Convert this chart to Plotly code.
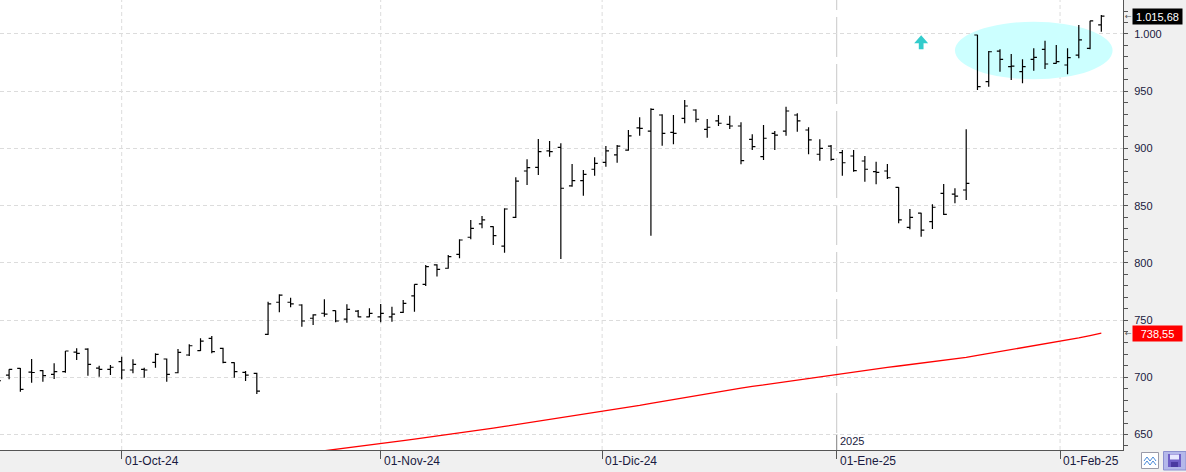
import numpy as np
import pandas as pd
import plotly.graph_objects as go

# ---------------- data ----------------
holidays = ["2024-11-28", "2024-12-25", "2025-01-01", "2025-01-09", "2025-01-20"]
dates = pd.bdate_range("2024-09-16", "2025-02-06", freq="C", holidays=holidays)

opens = [699.0, 702.0, 707.9, 704.6, 705.8, 702.6, 705.0, 722.0, 724.7, 708.0,
         707.0, 713.7, 706.4, 707.0, 713.1, 716.0, 704.0, 719.5, 723.3, 734.1,
         725.3, 712.8, 704.4, 703.5, 737.6, 765.6, 765.6, 763.2, 751.6, 756.0,
         758.2, 750.9, 757.9, 752.9, 752.9, 752.9, 756.8, 771.1, 781.3, 798.2,
         795.3, 807.5, 822.4, 834.0, 831.6, 814.7, 839.8, 880.3, 883.5, 897.8,
         901.0, 867.2, 871.8, 881.8, 887.9, 894.3, 898.6, 918.0, 915.2, 929.2,
         914.1, 926.3, 933.6, 916.7, 924.0, 921.1, 919.6, 908.0, 892.8, 913.2,
         915.2, 929.2, 916.1, 894.9, 902.1, 896.3, 893.4, 889.0, 879.7, 880.3,
         866.0, 831.1, 843.4, 836.0, 860.8, 860.0, 863.7, 999.1, 958.3, 985.1,
         971.4, 967.1, 977.9, 986.6, 974.4, 972.9, 981.6, 987.5, 1007.9]
highs = [702.0, 707.0, 708.2, 716.0, 706.4, 712.2, 723.0, 725.3, 725.3, 710.2,
         710.8, 718.0, 715.7, 708.4, 721.0, 716.5, 724.7, 728.9, 734.1, 736.1,
         725.9, 713.1, 705.5, 704.0, 766.1, 772.5, 769.6, 763.8, 755.1, 768.2,
         758.5, 763.8, 758.8, 760.3, 764.1, 761.7, 767.6, 781.3, 798.2, 798.8,
         806.9, 820.6, 837.5, 841.0, 831.9, 847.7, 874.8, 890.5, 908.3, 906.5,
         904.5, 886.4, 881.2, 892.3, 902.1, 903.0, 916.1, 927.2, 935.1, 929.8,
         929.2, 942.3, 934.2, 925.7, 929.2, 928.6, 922.8, 912.4, 920.5, 915.2,
         936.5, 930.7, 918.5, 908.0, 903.0, 898.6, 898.6, 893.4, 888.4, 886.4,
         866.3, 847.1, 843.9, 851.2, 868.9, 865.2, 916.7, 999.4, 985.1, 986.6,
         982.5, 977.9, 987.5, 994.1, 990.4, 987.5, 1007.9, 1011.6, 1016.6]
lows = [694.0, 698.3, 687.4, 695.3, 696.2, 698.5, 704.0, 715.1, 701.4, 700.6,
        702.0, 698.3, 703.5, 699.7, 708.4, 696.2, 703.5, 718.6, 723.0, 721.0,
        712.2, 699.7, 696.8, 685.4, 737.0, 756.8, 761.2, 744.2, 745.7, 752.9,
        748.1, 747.7, 752.4, 752.4, 748.1, 748.6, 756.3, 757.4, 779.8, 788.0,
        794.8, 804.0, 820.6, 830.2, 815.6, 808.9, 839.3, 868.1, 876.8, 892.8,
        803.4, 866.6, 858.7, 876.2, 884.0, 887.5, 898.0, 911.1, 823.8, 902.4,
        903.6, 922.0, 922.8, 909.4, 919.6, 917.0, 886.1, 898.6, 889.9, 898.6,
        911.1, 914.6, 894.9, 889.3, 889.3, 876.2, 879.7, 870.9, 868.7, 873.3,
        834.6, 829.3, 822.9, 829.6, 841.8, 852.1, 854.9, 951.0, 954.0, 967.1,
        959.8, 956.9, 967.9, 969.4, 974.0, 964.8, 978.8, 986.6, 1002.0]
closes = [697.0, 707.0, 689.5, 704.2, 701.4, 704.9, 723.0, 721.0, 711.4, 707.0,
          708.8, 706.4, 711.4, 706.4, 720.1, 702.6, 721.8, 727.6, 731.7, 722.4,
          713.1, 704.9, 702.0, 688.0, 764.1, 771.9, 764.1, 749.2, 754.5, 755.3,
          749.2, 759.4, 752.9, 755.9, 755.9, 755.3, 764.7, 781.3, 796.7, 794.4,
          805.4, 820.0, 830.2, 837.5, 823.8, 847.1, 871.5, 883.2, 897.2, 897.2,
          865.2, 871.8, 877.4, 887.0, 897.8, 902.1, 910.9, 917.6, 934.2, 913.2,
          913.2, 937.1, 925.5, 918.5, 922.0, 919.6, 889.3, 901.5, 908.9, 911.7,
          932.7, 924.0, 907.4, 900.1, 890.5, 887.5, 880.6, 881.8, 879.1, 874.4,
          837.5, 839.8, 828.7, 848.6, 842.4, 858.4, 869.5, 954.0, 984.5, 977.9,
          972.0, 971.4, 979.6, 973.8, 975.8, 979.3, 994.8, 1011.4, 1015.68]

# moving average (red line), starts at bar index 28
ma_start = 28
ma_values = [634.6, 635.8, 636.8, 638.1, 639.3, 640.5, 641.8, 643.2, 644.6, 646.0,
             647.3, 648.7, 650.1, 651.5, 652.9, 654.2, 655.7, 657.1, 658.6, 660.0,
             661.5, 662.9, 664.4, 665.8, 667.3, 668.8, 670.4, 672.0, 673.7, 675.4,
             677.2, 678.9, 680.6, 682.3, 684.0, 685.7, 687.6, 689.1, 690.5, 692.0,
             693.4, 694.9, 696.3, 697.8, 699.2, 700.7, 702.2, 703.6, 704.9, 706.2,
             707.5, 708.7, 709.9, 711.1, 712.3, 713.6, 714.8, 716.0, 717.5, 719.1,
             720.8, 722.4, 724.0, 725.6, 727.3, 728.9, 730.5, 732.5, 734.5, 736.5,
             738.55]

month_starts = ["2024-10-01", "2024-11-01", "2024-12-01", "2025-01-01", "2025-02-01"]
month_labels = ["01-Oct-24", "01-Nov-24", "01-Dic-24", "01-Ene-25", "01-Feb-25"]
year_label = "2025"
y_ticks = [650, 700, 750, 800, 850, 900, 950, 1000]

# ---------------- helpers ----------------
x = np.arange(len(dates))


def date_pos(d):
    d = pd.Timestamp(d)
    idx = int(np.searchsorted(dates.values, np.datetime64(d)))
    if idx < len(dates) and dates[idx] == d:
        return float(idx)
    prev, nxt = dates[idx - 1], dates[idx]
    return idx - 1 + (d - prev) / (nxt - prev)


def es(v):
    s = f"{v:,.2f}"
    return s.replace(",", "X").replace(".", ",").replace("X", ".")


tick_pos = [date_pos(d) for d in month_starts]

W, H = 1186, 472
PL, PR, PT, PB = 0, 1123, 0, 450


def px(xp):
    return (xp - PL) / (PR - PL)


def py(yp):
    return (PB - yp) / (PB - PT)


FONT = "Liberation Sans, Arial, sans-serif"
TXT = "#1a1a40"

fig = go.Figure()
fig.add_trace(go.Ohlc(
    x=x, open=opens, high=highs, low=lows, close=closes,
    increasing=dict(line=dict(color="black", width=1.2)),
    decreasing=dict(line=dict(color="black", width=1.2)),
    tickwidth=0.28, hoverinfo="skip", showlegend=False,
))
fig.add_trace(go.Scatter(
    x=x[ma_start:], y=ma_values, mode="lines",
    line=dict(color="#ff0000", width=1.3), hoverinfo="skip", showlegend=False,
))

shapes = []
# vertical month lines
for i, (d, p) in enumerate(zip(month_starts, tick_pos)):
    if d == "2025-01-01":
        shapes.append(dict(type="line", xref="x", yref="paper", x0=p, x1=p,
                           y0=py(433), y1=1, layer="between",
                           line=dict(color="#c8c8c8", width=1, dash="40px,7px")))
        shapes.append(dict(type="line", xref="x", yref="paper", x0=p, x1=p,
                           y0=0, y1=py(434), layer="between",
                           line=dict(color="#808080", width=1)))
    else:
        shapes.append(dict(type="line", xref="x", yref="paper", x0=p, x1=p,
                           y0=0, y1=1, layer="between",
                           line=dict(color="#dcdcdc", width=1, dash="4px,3px")))

# cyan ellipse highlight
shapes.append(dict(type="circle", xref="x", yref="y", x0=85.0, x1=99.0,
                   y0=960.4, y1=1010.7, fillcolor="#ccffff",
                   line=dict(width=0), layer="between"))
# cyan arrow
ax = 82.0
arrow_path = (f"M {ax-0.62},991.9 L {ax},998.9 L {ax+0.62},991.9 L {ax+0.21},991.9 "
              f"L {ax+0.21},986.6 L {ax-0.21},986.6 L {ax-0.21},991.9 Z")
shapes.append(dict(type="path", xref="x", yref="y", path=arrow_path,
                   fillcolor="#33cccc", line=dict(width=0)))

# bottom-right icons
def rect(x0, y0, x1, y1, fill, line):
    return dict(type="rect", xref="paper", yref="paper", x0=px(x0), x1=px(x1),
                y0=py(y1), y1=py(y0), fillcolor=fill, line=line, layer="above")


def ppath(points, color, width=1):
    s = "M " + " L ".join(f"{px(a)},{py(b)}" for a, b in points)
    return dict(type="path", xref="paper", yref="paper", path=s,
                line=dict(color=color, width=width))


shapes.append(rect(1141.5, 452.5, 1158.5, 468.5, "white", dict(color="#9a9aa8", width=1)))
shapes.append(ppath([(1144, 461), (1147, 457), (1150, 461), (1153, 457), (1156, 461)], "#4a8ad8"))
shapes.append(ppath([(1144, 465), (1147, 461), (1150, 465), (1153, 461), (1156, 465)], "#4a8ad8"))
shapes.append(rect(1163.5, 451.5, 1186, 470, "#b4b8ea", dict(color="#8c90d0", width=1)))
shapes.append(rect(1168, 454, 1181, 467, "#6f5fc6", dict(width=0)))
shapes.append(rect(1170, 454.5, 1179, 459.5, "#e8e8ff", dict(width=0)))
shapes.append(rect(1171, 462, 1178, 467, "#4a3aa0", dict(width=0)))

annotations = []
for p, lab in zip(tick_pos, month_labels):
    annotations.append(dict(xref="x", yref="paper", x=p, y=py(461), text=lab,
                            xanchor="left", yanchor="middle", xshift=1,
                            showarrow=False, font=dict(family=FONT, size=12, color=TXT)))
annotations.append(dict(xref="x", yref="paper", x=date_pos("2025-01-01"), y=py(441),
                        text=year_label, xanchor="left", yanchor="middle", xshift=1,
                        showarrow=False, font=dict(family=FONT, size=11, color=TXT)))

for val, bg in [(closes[-1], "black"), (ma_values[-1], "#ff0000")]:
    annotations.append(dict(xref="paper", yref="y", x=1, y=val, text=es(val),
                            xanchor="left", yanchor="middle", xshift=9,
                            showarrow=False, bgcolor=bg, borderpad=2,
                            width=45, height=11,
                            font=dict(family=FONT, size=11, color="white")))
    annotations.append(dict(xref="paper", yref="y", x=1, y=val, text="←",
                            xanchor="left", yanchor="middle", xshift=0,
                            showarrow=False,
                            font=dict(family="DejaVu Sans", size=8, color="#555555")))

fig.update_layout(
    width=W, height=H,
    margin=dict(l=PL, r=W - PR, t=PT, b=H - PB, pad=0),
    paper_bgcolor="#f0f0f0", plot_bgcolor="white",
    separators=",.", showlegend=False,
    shapes=shapes, annotations=annotations,
    xaxis=dict(range=[0.192, 99.925], tickmode="array", tickvals=tick_pos,
               showticklabels=False, ticks="outside", ticklen=8, tickcolor="#555555",
               showgrid=False, zeroline=False, showline=True, linecolor="#555555",
               linewidth=1, rangeslider=dict(visible=False), fixedrange=True),
    yaxis=dict(side="right", range=[636.5, 1029.7], tickmode="array",
               tickvals=y_ticks, tickformat=",d", ticks="outside", ticklen=4,
               tickcolor="#555555",
               minor=dict(dtick=10, tick0=650, ticks="outside", ticklen=4,
                          tickcolor="#555555", showgrid=False),
               showgrid=True, gridcolor="#dcdcdc", griddash="4px,3px", gridwidth=1,
               zeroline=False, showline=True, linecolor="#555555", linewidth=1,
               ticklabelstandoff=4,
               tickfont=dict(family=FONT, size=11, color=TXT)),
)

fig.write_html("out.html", config=dict(displayModeBar=False))
